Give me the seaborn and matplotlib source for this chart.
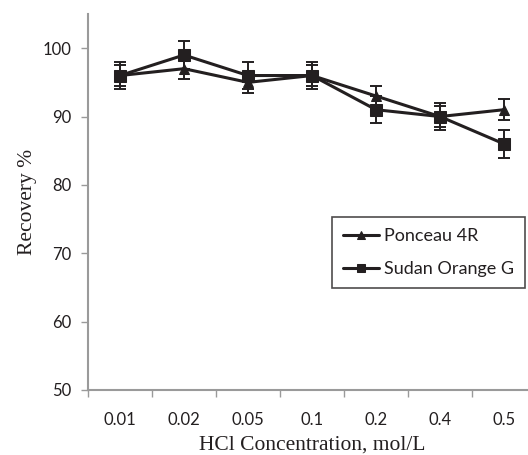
import pandas as pd
import seaborn as sns
import matplotlib
matplotlib.use("Agg")
import matplotlib.pyplot as plt

# data
concentrations = ["0.01", "0.02", "0.05", "0.1", "0.2", "0.4", "0.5"]
ponceau = [96, 97, 95, 96, 93, 90, 91]
ponceau_err = [1.6, 1.5, 1.5, 1.6, 1.5, 1.5, 1.5]
sudan = [96, 99, 96, 96, 91, 90, 86]
sudan_err = [2, 2, 2, 2, 2, 2, 2]

INK = "#231f20"
GREY = "#9a9a9a"


def main():
    sns.set_theme(style="white")
    plt.rcParams["font.family"] = ["Lato", "DejaVu Sans"]

    pos = list(range(len(concentrations)))
    df = pd.concat([
        pd.DataFrame({"pos": pos, "recovery": ponceau, "err": ponceau_err, "dye": "Ponceau 4R"}),
        pd.DataFrame({"pos": pos, "recovery": sudan, "err": sudan_err, "dye": "Sudan Orange G"}),
    ])

    fig = plt.figure(figsize=(5.28, 4.55), dpi=100)
    ax = fig.add_axes([88 / 528, 65 / 455, 448 / 528, 376 / 455])

    styles = {"Ponceau 4R": ("^", 7.5), "Sudan Orange G": ("s", 8)}
    for dye, sub in df.groupby("dye", sort=False):
        marker, ms = styles[dye]
        ax.errorbar(sub["pos"], sub["recovery"], yerr=sub["err"], fmt="none",
                    ecolor=INK, elinewidth=1.4, capsize=4, capthick=1.4, zorder=2)
        sns.lineplot(data=sub, x="pos", y="recovery", ax=ax, color=INK,
                     marker=marker, markersize=ms, markeredgecolor=INK,
                     linewidth=2.2, label=dye, zorder=3)

    ax.set_xlim(-0.5, len(concentrations) - 0.5)
    ax.set_ylim(50, 105)
    ax.set_yticks([50, 60, 70, 80, 90, 100])
    ax.set_xticks(pos)
    ax.set_xticklabels(concentrations)
    ax.set_xticks([p - 0.5 for p in pos] + [len(pos) - 0.5], minor=True)

    ax.tick_params(axis="x", which="major", length=0, pad=16, labelsize=12, colors=INK)
    ax.tick_params(axis="x", which="minor", length=5, width=1, color=GREY, bottom=True)
    ax.tick_params(axis="y", length=5, width=1, color=GREY, left=True, labelsize=12,
                   labelcolor=INK, pad=7)

    for side in ["top", "right"]:
        ax.spines[side].set_visible(False)
    for side in ["left", "bottom"]:
        ax.spines[side].set_color(GREY)
        ax.spines[side].set_linewidth(1.5)

    ax.set_xlabel("HCl Concentration, mol/L", family="Liberation Serif", fontsize=15.5,
                  color=INK, labelpad=5)
    ax.set_ylabel("Recovery %", family="Liberation Serif", fontsize=15.5, color=INK,
                  labelpad=4)

    leg = ax.legend(loc="upper left", bbox_to_anchor=((332 - 88) / 448, (455 - 217 - 65) / 376),
                    frameon=True, fancybox=False, fontsize=13, handlelength=2.0,
                    borderpad=0.6, labelspacing=0.95, handletextpad=0.3,
                    borderaxespad=0, markerscale=0.8)
    leg.get_frame().set_edgecolor(INK)
    leg.get_frame().set_linewidth(1.2)
    for t in leg.get_texts():
        t.set_color(INK)

    fig.savefig("out.png", dpi=100)


if __name__ == "__main__":
    main()
